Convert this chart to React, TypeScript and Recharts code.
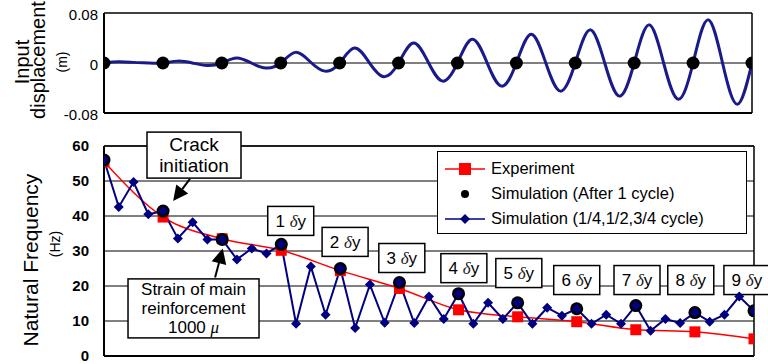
import {
  ComposedChart,
  Line,
  XAxis,
  YAxis,
  CartesianGrid,
  ReferenceLine,
  ReferenceDot,
  Legend,
} from 'recharts';

const FONT = '"Liberation Sans", Arial, sans-serif';
const SERIF = '"Liberation Serif", "Times New Roman", serif';

// loading cycles (x axis, 0..11)
const cycles = [0, 1, 2, 3, 4, 5, 6, 7, 8, 9, 10, 11];

// input displacement (m), read every quarter cycle
const inputDisp = [
  0, 0.002, 0.001, 0,
  0, 0.003, 0, -0.004,
  0, 0.008, 0, -0.008,
  0, 0.017, 0.002, -0.013,
  0, 0.024, 0.001, -0.022,
  0, 0.032, 0.002, -0.029,
  0, 0.038, 0.001, -0.037,
  0, 0.046, 0, -0.045,
  0, 0.053, 0, -0.053,
  0, 0.061, 0, -0.058,
  0, 0.069, 0, -0.066,
  0,
];

// natural frequency (Hz)
const experiment = [55.5, 39.7, 33.5, 30.2, 24.4, 19.3, 13.2, 11.2, 9.8, 7.5, 6.9, 4.9];
const simAfterCycle = [56, 41.4, 33.3, 31.9, 25, 21, 17.8, 15.2, 13.5, 14.4, 12.4, 12.9];
const simQuarter = [
  56.0, 42.6, 49.7, 40.5, 41.4, 33.6, 38.2, 33.3, 33.3, 27.6, 30.7, 29.3, 31.9,
  9.2, 25.6, 11.8, 25.0, 8.0, 20.4, 9.5, 21.0, 9.4, 17.0, 10.6, 17.8, 9.2, 15.2, 10.6, 15.2,
  9.2, 13.8, 11.5, 13.5, 9.2, 11.8, 9.2, 14.4, 7.2, 10.6, 9.4, 12.4, 9.8, 11.8, 17.0, 12.9,
];

const dispTicks = [-0.08, 0, 0.08];
const freqTicks = [0, 10, 20, 30, 40, 50, 60];

const legendNames = [
  'Experiment',
  'Simulation (After 1 cycle)',
  'Simulation (1/4,1/2,3/4 cycle)',
];

// ductility labels placed near the after-cycle points (cycle, Hz)
const ductility = [
  { n: 1, x: 3.16, y: 38.6 },
  { n: 2, x: 4.08, y: 32.6 },
  { n: 3, x: 5.04, y: 28.0 },
  { n: 4, x: 6.09, y: 25.1 },
  { n: 5, x: 7.02, y: 23.7 },
  { n: 6, x: 8.0, y: 21.7 },
  { n: 7, x: 9.02, y: 21.7 },
  { n: 8, x: 9.93, y: 21.7 },
  { n: 9, x: 10.88, y: 21.7 },
];

const dispData = inputDisp.map((v, i) => ({ t: i / 4, v }));
const zeroDots = cycles.map((c) => ({ t: c, v: 0 }));
const expData = cycles.map((c, i) => ({ t: c, v: experiment[i] }));
const afterData = cycles.map((c, i) => ({ t: c, v: simAfterCycle[i] }));
const quarterData = simQuarter.map((v, i) => ({ t: i / 4, v }));

const NAVY = '#000080';
const RED = '#ff0000';

function Square(p: any) {
  if (p.cx == null) return <g />;
  return <rect x={p.cx - 5.5} y={p.cy - 5.5} width={11} height={11} fill={RED} />;
}

function Diamond(p: any) {
  if (p.cx == null) return <g />;
  const s = 5;
  return (
    <polygon
      points={`${p.cx},${p.cy - s} ${p.cx + s},${p.cy} ${p.cx},${p.cy + s} ${p.cx - s},${p.cy}`}
      fill={NAVY}
    />
  );
}

function BlackDot(p: any) {
  if (p.cx == null) return <g />;
  return <circle cx={p.cx} cy={p.cy} r={6.5} fill="#000" />;
}

function Arrow(p: any) {
  const { x1, y1, x2, y2 } = p;
  const dx = x2 - x1;
  const dy = y2 - y1;
  const len = Math.hypot(dx, dy) || 1;
  const ux = dx / len;
  const uy = dy / len;
  const hl = 15;
  const hw = 7.5;
  const bx = x2 - ux * hl;
  const by = y2 - uy * hl;
  return (
    <g>
      <line x1={x1} y1={y1} x2={bx} y2={by} stroke="#000" strokeWidth={2} />
      <polygon
        points={`${x2},${y2} ${bx - uy * hw},${by + ux * hw} ${bx + uy * hw},${by - ux * hw}`}
        fill="#000"
      />
    </g>
  );
}

function TextBox({ cx, cy, w, h, lines, size, gap }: any) {
  const first = cy - ((lines.length - 1) * gap) / 2;
  return (
    <g>
      <rect x={cx - w / 2} y={cy - h / 2} width={w} height={h} fill="#fff" stroke="#000" strokeWidth={1.5} />
      {lines.map((ln: any, i: number) => (
        <text
          key={i}
          x={cx}
          y={first + i * gap}
          dy="0.35em"
          textAnchor="middle"
          fontFamily={FONT}
          fontSize={size}
          fill="#000"
        >
          {ln}
        </text>
      ))}
    </g>
  );
}

function DeltaBox({ cx, cy, n }: any) {
  return (
    <g>
      <rect x={cx - 23} y={cy - 14.5} width={46} height={29} fill="#fff" stroke="#000" strokeWidth={1.5} />
      <text x={cx} y={cy + 6} textAnchor="middle" fontFamily={FONT} fontSize={17} fill="#000">
        <tspan>{n} </tspan>
        <tspan fontFamily={SERIF} fontStyle="italic" fill="#222">δ</tspan>
        <tspan>y</tspan>
      </text>
    </g>
  );
}

function LegendBox() {
  const sample = (i: number) => {
    if (i === 0)
      return (
        <svg width={40} height={14}>
          <line x1={0} y1={7} x2={40} y2={7} stroke={RED} strokeWidth={1.5} />
          <rect x={14} y={1} width={12} height={12} fill={RED} />
        </svg>
      );
    if (i === 1)
      return (
        <svg width={40} height={14}>
          <circle cx={20} cy={7} r={4} fill="#000" />
        </svg>
      );
    return (
      <svg width={40} height={14}>
        <line x1={0} y1={7} x2={40} y2={7} stroke={NAVY} strokeWidth={1.5} />
        <polygon points="20,2 25,7 20,12 15,7" fill={NAVY} />
      </svg>
    );
  };
  return (
    <div
      style={{
        width: 310,
        height: 83,
        boxSizing: 'border-box',
        border: '1.5px solid #000',
        background: '#fff',
        fontFamily: FONT,
        fontSize: 16.5,
        color: '#000',
        padding: '4px 0 0 7px',
      }}
    >
      {legendNames.map((name, i) => (
        <div key={name} style={{ display: 'flex', alignItems: 'center', height: 25, whiteSpace: 'nowrap' }}>
          {sample(i)}
          <span style={{ marginLeft: 6 }}>{name}</span>
        </div>
      ))}
    </div>
  );
}

function TopTitle() {
  return (
    <g fontFamily={FONT} fill="#000">
      <text x={29} y={62} textAnchor="middle" fontSize={20} transform="rotate(-90 29 62)">
        Input
      </text>
      <text x={45} y={60} textAnchor="middle" fontSize={20} transform="rotate(-90 45 60)">
        displacement
      </text>
      <text x={67} y={62} textAnchor="middle" fontSize={14} transform="rotate(-90 67 62)">
        (m)
      </text>
    </g>
  );
}

function BottomTitle() {
  return (
    <g fontFamily={FONT} fill="#000">
      <text x={38} y={140} textAnchor="middle" fontSize={21} transform="rotate(-90 38 140)">
        Natural Frequency
      </text>
      <text x={60} y={124} textAnchor="middle" fontSize={14} transform="rotate(-90 60 124)">
        (Hz)
      </text>
    </g>
  );
}

function Frame({ x0, x1, y0, y1 }: any) {
  return (
    <>
      <ReferenceLine y={y0} stroke="#000" strokeWidth={2} ifOverflow="visible" />
      <ReferenceLine y={y1} stroke="#000" strokeWidth={1.5} ifOverflow="visible" />
      <ReferenceLine x={x0} stroke="#000" strokeWidth={2} ifOverflow="visible" />
      <ReferenceLine x={x1} stroke="#000" strokeWidth={1.5} ifOverflow="visible" />
    </>
  );
}

export default function App() {
  return (
    <div style={{ position: 'absolute', left: 0, top: 0, width: 768, height: 364, background: '#fff' }}>
      <div style={{ position: 'absolute', left: 0, top: 0 }}>
        <ComposedChart width={768} height={128} margin={{ top: 13, right: 16, bottom: 15, left: 8 }}>
          <XAxis dataKey="t" type="number" domain={[0, 11]} hide height={0} allowDataOverflow />
          <YAxis
            type="number"
            domain={[-0.08, 0.08]}
            ticks={dispTicks}
            interval={0}
            width={96}
            axisLine={false}
            tickLine={false}
            tickSize={0}
            tickMargin={6}
            tick={{ fontFamily: FONT, fontSize: 15, fill: '#000', dy: 2 }}
            tickFormatter={(v: number) => (v === 0 ? '0' : v.toFixed(2))}
            label={{ content: () => <TopTitle /> }}
          />
          {Frame({ x0: 0, x1: 11, y0: -0.08, y1: 0.08 })}
          <ReferenceLine y={0} stroke="#000" strokeWidth={1} />
          <Line
            data={dispData}
            dataKey="v"
            type="natural"
            stroke="#1a1a8a"
            strokeWidth={3}
            dot={false}
            activeDot={false}
            isAnimationActive={false}
          />
          <Line
            data={zeroDots}
            dataKey="v"
            stroke="none"
            dot={<BlackDot />}
            activeDot={false}
            isAnimationActive={false}
          />
        </ComposedChart>
      </div>
      <div style={{ position: 'absolute', left: 0, top: 120 }}>
        <ComposedChart width={768} height={244} margin={{ top: 26, right: 14, bottom: 8, left: 8 }}>
          <CartesianGrid vertical={false} stroke="#000" strokeWidth={1} />
          <XAxis dataKey="t" type="number" domain={[0, 11]} hide height={0} allowDataOverflow />
          <YAxis
            type="number"
            domain={[0, 60]}
            ticks={freqTicks}
            interval={0}
            width={96}
            axisLine={false}
            tickLine={false}
            tickSize={0}
            tickMargin={15}
            tick={{ fontFamily: FONT, fontSize: 15, fontWeight: 'bold', fill: '#000' }}
            label={{ content: () => <BottomTitle /> }}
          />
          {Frame({ x0: 0, x1: 11, y0: 0, y1: 60 })}
          <Line
            data={expData}
            dataKey="v"
            name={legendNames[0]}
            type="monotone"
            stroke={RED}
            strokeWidth={1.5}
            dot={<Square />}
            activeDot={false}
            isAnimationActive={false}
          />
          <Line
            data={afterData}
            dataKey="v"
            name={legendNames[1]}
            stroke="none"
            dot={<BlackDot />}
            activeDot={false}
            isAnimationActive={false}
          />
          <Line
            data={quarterData}
            dataKey="v"
            name={legendNames[2]}
            type="linear"
            stroke={NAVY}
            strokeWidth={2}
            dot={<Diamond />}
            activeDot={false}
            isAnimationActive={false}
          />
          <ReferenceLine
            segment={[{ x: 1.455, y: 50.6 }, { x: 1.17, y: 44.3 }]}
            ifOverflow="visible"
            shape={(p: any) => <Arrow {...p} />}
          />
          <ReferenceLine
            segment={[{ x: 1.88, y: 22.4 }, { x: 2.01, y: 30.7 }]}
            ifOverflow="visible"
            shape={(p: any) => <Arrow {...p} />}
          />
          <ReferenceDot
            x={1.523}
            y={57.4}
            r={0}
            ifOverflow="visible"
            shape={(p: any) => (
              <TextBox cx={p.cx} cy={p.cy} w={94} h={46} size={19} gap={21} lines={['Crack', 'initiation']} />
            )}
          />
          <ReferenceDot
            x={1.515}
            y={13.6}
            r={0}
            ifOverflow="visible"
            shape={(p: any) => (
              <TextBox
                cx={p.cx}
                cy={p.cy}
                w={131}
                h={59}
                size={17}
                gap={19}
                lines={[
                  'Strain of main',
                  'reinforcement',
                  <>
                    1000 <tspan fontFamily={SERIF} fontStyle="italic">μ</tspan>
                  </>,
                ]}
              />
            )}
          />
          {ductility.map((d) => (
            <ReferenceDot
              key={d.n}
              x={d.x}
              y={d.y}
              r={0}
              ifOverflow="visible"
              shape={(p: any) => <DeltaBox cx={p.cx} cy={p.cy} n={d.n} />}
            />
          ))}
          <Legend
            layout="horizontal"
            verticalAlign="middle"
            align="center"
            wrapperStyle={{ left: 437, top: 31, width: 310, height: 83 }}
            content={() => <LegendBox />}
          />
        </ComposedChart>
      </div>
    </div>
  );
}
